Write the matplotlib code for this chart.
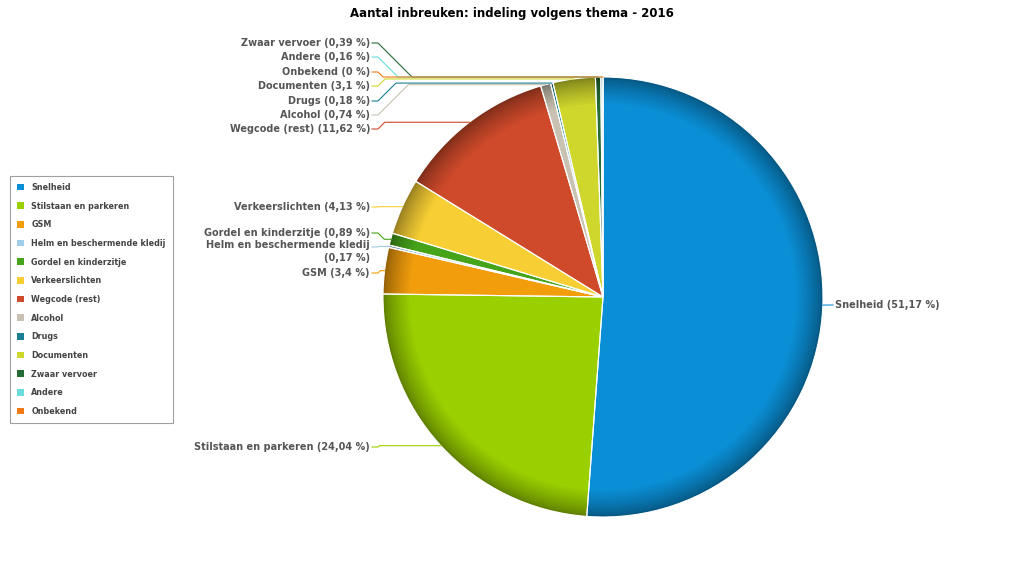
import numpy as np
import matplotlib.pyplot as plt
from matplotlib.patches import Patch
from matplotlib.colors import to_rgb

# categories and shares (percent), in drawing order (clockwise from the top)
categories = ['Snelheid', 'Stilstaan en parkeren', 'GSM', 'Helm en beschermende kledij',
              'Gordel en kinderzitje', 'Verkeerslichten', 'Wegcode (rest)', 'Alcohol',
              'Drugs', 'Documenten', 'Zwaar vervoer', 'Andere', 'Onbekend']
shares = [51.17, 24.04, 3.4, 0.17, 0.89, 4.13, 11.62, 0.74, 0.18, 3.1, 0.39, 0.16, 0.0]
share_text = ['51,17', '24,04', '3,4', '0,17', '0,89', '4,13', '11,62', '0,74',
              '0,18', '3,1', '0,39', '0,16', '0']
colors = ['#0a8fd6', '#9bd000', '#f29d0c', '#9fcdea', '#46a41b', '#f7cf34', '#cf4a2a',
          '#c9c2b3', '#1a7f92', '#cfd62c', '#246b34', '#6bdcdc', '#ef7a16']

W, H = 1023, 571
cx, cy, R = 603, 297, 220

# label anchor positions in pixels (x, y)
label_pos = [(835, 305), (370, 447), (370, 273), (370, 247), (370, 233), (370, 207),
             (370, 129), (370, 115), (370, 101), (370, 86), (370, 43), (370, 57), (370, 72)]


def py(y):
    return H - y


fig = plt.figure(figsize=(W / 100, H / 100), dpi=100)
ax = fig.add_axes([0, 0, 1, 1])

# shaded pie: darker rim fading into the base colour
steps = 12
for k in range(steps):
    t = k / (steps - 1)
    r = R * (1 - 0.12 * t)
    f = 0.62 + 0.38 * t ** 0.8
    cols = [tuple(c * f for c in to_rgb(col)) for col in colors]
    ax.pie(shares, colors=cols, startangle=90, counterclock=False, radius=r,
           center=(cx, py(cy)), wedgeprops=dict(linewidth=0), frame=False)
ax.pie(shares, colors=['none'] * len(shares), startangle=90, counterclock=False, radius=R,
       center=(cx, py(cy)), wedgeprops=dict(linewidth=0.8, edgecolor='white'), frame=False)

# labels and connectors
cum = np.cumsum([0] + shares[:-1])
for i, name in enumerate(categories):
    mid = (cum[i] + shares[i] / 2) / 100 * 2 * np.pi
    ex = cx + R * np.sin(mid)
    ey = cy - R * np.cos(mid)
    lx, ly = label_pos[i]
    if lx > cx:
        ax.text(lx, py(ly), f'{name} ({share_text[i]} %)', ha='left', va='center',
                fontsize=7, fontweight='bold', color='#555555')
        xs = [lx - 2, ex]
        ys = [ly, ey]
    else:
        if name == 'Helm en beschermende kledij':
            txt = f'{name}\n({share_text[i]} %)'
            ax.text(lx, py(ly) + 6.5, txt, ha='right', va='top', fontsize=7,
                    fontweight='bold', color='#555555', linespacing=1.3)
        else:
            ax.text(lx, py(ly), f'{name} ({share_text[i]} %)', ha='right', va='center',
                    fontsize=7, fontweight='bold', color='#555555')
        kx = lx + 8
        dy = abs(ey - ly)
        bx = min(kx + dy, ex)
        xs = [lx + 2, kx, bx, ex]
        ys = [ly, ly, ey, ey]
    ax.plot(xs, [py(v) for v in ys], color=colors[i], linewidth=0.8)

ax.text(W / 2, py(13), 'Aantal inbreuken: indeling volgens thema - 2016', ha='center',
        va='center', fontsize=8.5, fontweight='bold', color='black')

handles = [Patch(facecolor=c, edgecolor='none') for c in colors]
leg = fig.legend(handles, categories, loc='upper left',
                 bbox_to_anchor=(10 / W, 1 - 176 / H), frameon=True, fancybox=False,
                 prop=dict(size=5.8, weight='bold'), labelcolor='#444444',
                 handlelength=0.9, handleheight=0.9, handletextpad=0.9,
                 labelspacing=1.2, borderpad=0.85, borderaxespad=0)
leg.get_frame().set_edgecolor('#888888')
leg.get_frame().set_linewidth(0.8)

ax.set_xlim(0, W)
ax.set_ylim(0, H)
ax.set_aspect('equal')
ax.axis('off')

fig.savefig('out.png', dpi=100)
